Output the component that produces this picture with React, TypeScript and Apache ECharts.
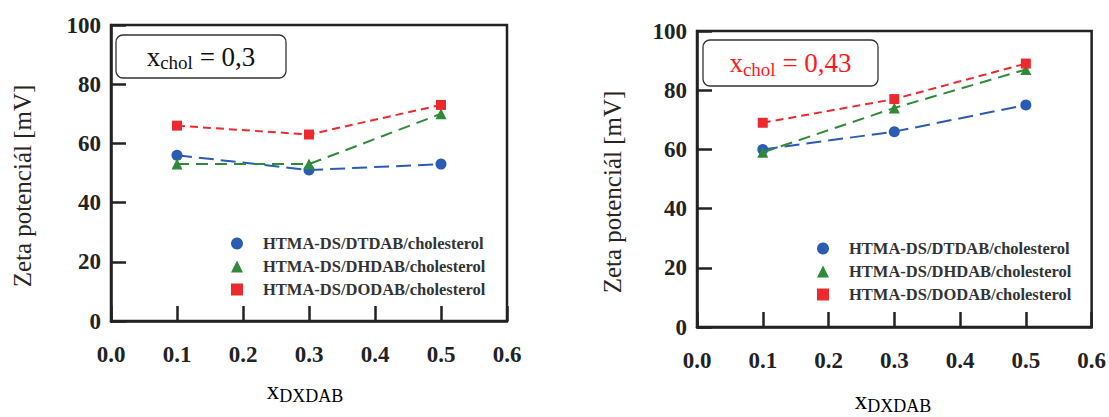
import React, { useEffect, useRef } from "react";
import * as echarts from "echarts";

const xValues = [0.1, 0.3, 0.5];
const seriesNames = [
  "HTMA-DS/DTDAB/cholesterol",
  "HTMA-DS/DHDAB/cholesterol",
  "HTMA-DS/DODAB/cholesterol",
];
// x_chol = 0,3
const leftDTDAB = [56, 51, 53];
const leftDHDAB = [53, 53, 70];
const leftDODAB = [66, 63, 73];
// x_chol = 0,43
const rightDTDAB = [60, 66, 75];
const rightDHDAB = [59, 74, 87];
const rightDODAB = [69, 77, 89];

const colors = ["#2a5cb3", "#2f8a3a", "#ec2a2e"];
const symbols = ["circle", "triangle", "rect"];
const dashes = [[15, 7], [12, 7], [8, 5]];

const serif = "Liberation Serif";

export default function App() {
  const ref = useRef<HTMLDivElement>(null);
  useEffect(() => {
    const chart = echarts.init(ref.current!, undefined, { renderer: "svg" });
    const grids = [
      { left: 111, top: 25, width: 396, height: 296 },
      { left: 697, top: 31, width: 396, height: 296 },
    ];
    const mkX = (i: number) => ({
      type: "value",
      gridIndex: i,
      min: 0,
      max: 0.6,
      interval: 0.1,
      axisLine: { show: true, lineStyle: { color: "#222", width: 2.5 } },
      axisTick: { show: true, inside: true, length: 15, lineStyle: { color: "#222", width: 2.5 } },
      splitLine: { show: false },
      axisLabel: {
        margin: 22,
        color: "#222",
        fontFamily: serif,
        fontWeight: "bold",
        fontSize: 23,
        formatter: (v: number) => v.toFixed(1),
      },
    });
    const mkY = (i: number) => ({
      type: "value",
      gridIndex: i,
      min: 0,
      max: 100,
      interval: 20,
      axisLine: { show: true, lineStyle: { color: "#222", width: 2.5 } },
      axisTick: { show: true, inside: true, length: 15, lineStyle: { color: "#222", width: 2.5 } },
      splitLine: { show: false },
      axisLabel: {
        margin: 10,
        color: "#222",
        fontFamily: serif,
        fontWeight: "bold",
        fontSize: 23,
      },
    });
    const data = [
      [leftDTDAB, leftDHDAB, leftDODAB],
      [rightDTDAB, rightDHDAB, rightDODAB],
    ];
    const series: any[] = [];
    data.forEach((set, gi) => {
      set.forEach((vals, si) => {
        series.push({
          type: "line",
          name: seriesNames[si],
          xAxisIndex: gi,
          yAxisIndex: gi,
          data: xValues.map((x, k) => [x, vals[k]]),
          symbol: symbols[si],
          symbolSize: si === 2 ? 10 : 11,
          itemStyle: { color: colors[si] },
          lineStyle: { color: colors[si], width: 2, type: dashes[si] },
          z: 2 + si,
        });
      });
    });
    const legendData = seriesNames.map((n, i) => ({ name: n, icon: symbols[i] }));
    const mkLegend = (left: number, top: number) => ({
      data: legendData,
      orient: "vertical",
      left,
      top,
      itemWidth: 12,
      itemHeight: 12,
      itemGap: 6,
      selectedMode: false,
      textStyle: {
        fontFamily: serif,
        fontWeight: "bold",
        fontSize: 16.5,
        color: "#333",
        lineHeight: 15,
        padding: [0, 0, 0, 15],
      },
    });
    const annot = (x: number, y: number, w: number, h: number, val: string, color: string) => ({
      type: "group",
      children: [
        {
          type: "rect",
          shape: { x, y, width: w, height: h, r: 7 },
          style: { fill: "#fff", stroke: "#333", lineWidth: 1.3 },
          z: 10,
        },
        {
          type: "text",
          x: x + w / 2,
          y: y + h / 2,
          z: 11,
          style: {
            text: "{a|x}{b|chol}{a| = " + val + "}",
            align: "center",
            verticalAlign: "middle",
            rich: {
              a: { fontFamily: serif, fontSize: 27, fill: color, color, lineHeight: 30 },
              b: { fontFamily: serif, fontSize: 19, fill: color, color, lineHeight: 30, padding: [12, 0, 0, 0] },
            },
          },
        },
      ],
    });
    const xTitle = (cx: number, cy: number) => ({
      type: "text",
      x: cx,
      y: cy,
      style: {
        text: "{a|x}{b|DXDAB}",
        align: "center",
        verticalAlign: "middle",
        rich: {
          a: { fontFamily: serif, fontSize: 25, color: "#222", lineHeight: 28 },
          b: { fontFamily: serif, fontSize: 18, color: "#222", lineHeight: 28, padding: [12, 0, 0, 0] },
        },
      },
    });
    const yTitle = (cx: number, cy: number) => ({
      type: "text",
      x: cx,
      y: cy,
      rotation: Math.PI / 2,
      style: {
        text: "Zeta potenciál [mV]",
        align: "center",
        verticalAlign: "middle",
        fontFamily: serif,
        fontSize: 25,
        fill: "#2b2520",
      },
    });
    chart.setOption({
      animation: false,
      backgroundColor: "#fff",
      grid: grids.map((g) => ({ ...g, show: true, borderColor: "#222", borderWidth: 2.5, backgroundColor: "transparent" })),
      xAxis: [mkX(0), mkX(1)],
      yAxis: [mkY(0), mkY(1)],
      legend: [mkLegend(226, 230), mkLegend(812, 235)],
      series,
      graphic: [
        annot(116, 35, 170, 43, "0,3", "#111"),
        annot(703, 40, 175, 46, "0,43", "#ff1a1a"),
        xTitle(305, 390),
        xTitle(893, 400),
        yTitle(22, 186),
        yTitle(612, 192),
      ],
    });
    return () => chart.dispose();
  }, []);
  return <div ref={ref} style={{ position: "fixed", left: 0, top: 0, width: 1109, height: 417 }} />;
}
